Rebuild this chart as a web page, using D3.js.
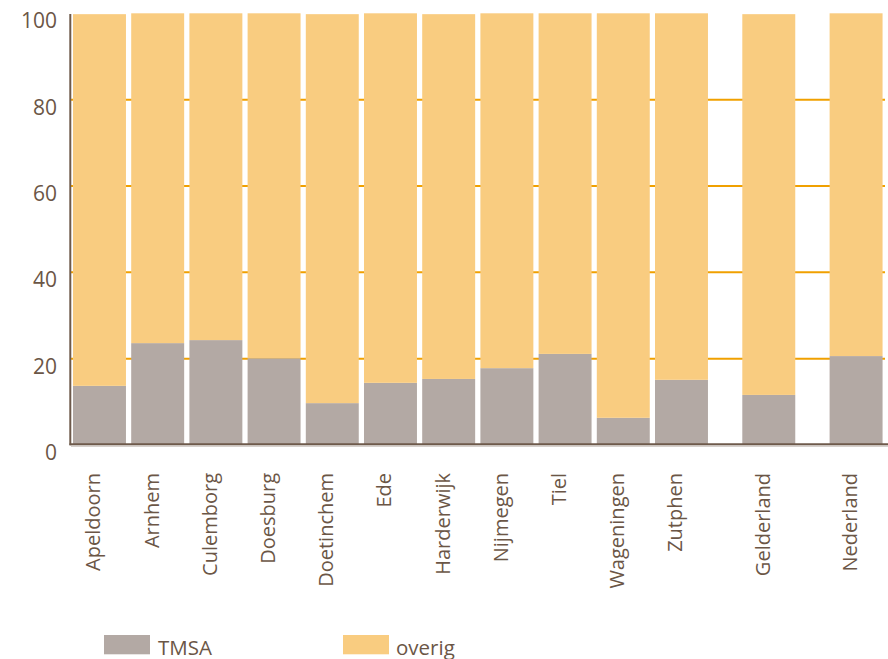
<!DOCTYPE html>
<html>
<head>
<meta charset="utf-8">
<script src="https://cdn.jsdelivr.net/npm/d3@7"></script>
<style>
  html, body { margin: 0; padding: 0; background: #fff; }
  svg { display: block; }
  text { font-family: "Open Sans", sans-serif; fill: #6b5646; }
</style>
</head>
<body>
<svg id="chart" width="888" height="659"></svg>
<script>
// ---- data ----
const categories = ["Apeldoorn", "Arnhem", "Culemborg", "Doesburg", "Doetinchem", "Ede",
  "Harderwijk", "Nijmegen", "Tiel", "Wageningen", "Zutphen", "Gelderland", "Nederland"];
const groups = [0, 0, 0, 0, 0, 0, 0, 0, 0, 0, 0, 1, 2];
const tmsa = [13.7, 23.6, 24.3, 20.1, 9.7, 14.4, 15.3, 17.8, 21.1, 6.3, 15.1, 11.6, 20.6];
const overig = [86.1, 76.4, 75.7, 79.9, 90.1, 85.6, 84.5, 82.2, 78.9, 93.7, 84.9, 88.2, 79.4];
const seriesNames = ["TMSA", "overig"];
const yTicks = [0, 20, 40, 60, 80, 100];
const gridTicks = [20, 40, 60, 80];

// ---- styles ----
const colors = { TMSA: "#b3a9a4", overig: "#f9cc80" };
const gridColor = "#f0a000";
const axisColor = "#6e5a4b";

const svg = d3.select("#chart");

const y = d3.scaleLinear().domain([0, 100]).range([445, 13.3]);
const slot = categories.map((c, i) => i + 0.5 * groups[i]);
const x = d3.scaleLinear().domain([0, 13]).range([73, 829.6]);
const barW = x(0.91) - x(0);

// gridlines
svg.append("g").selectAll("line").data(gridTicks).join("line")
  .attr("x1", 71).attr("x2", 885)
  .attr("y1", d => y(d)).attr("y2", d => y(d))
  .attr("stroke", gridColor).attr("stroke-width", 2);

// stacked bars
const rows = categories.map((c, i) => ({ cat: c, slot: slot[i], TMSA: tmsa[i], overig: overig[i] }));
const stack = d3.stack().keys(seriesNames)(rows);
svg.append("g").selectAll("g").data(stack).join("g")
  .attr("fill", s => colors[s.key])
  .selectAll("rect").data(s => s).join("rect")
  .attr("x", d => x(d.data.slot))
  .attr("width", barW)
  .attr("y", d => y(d[1]))
  .attr("height", d => y(d[0]) - y(d[1]));

// axes lines
svg.append("line").attr("x1", 71).attr("x2", 888).attr("y1", 446.2).attr("y2", 446.2)
  .attr("stroke", "#d6d0cc").attr("stroke-width", 1.5);
svg.append("line").attr("x1", 69.5).attr("x2", 888).attr("y1", 444.3).attr("y2", 444.3)
  .attr("stroke", axisColor).attr("stroke-width", 2);
svg.append("line").attr("x1", 70.3).attr("x2", 70.3).attr("y1", 14).attr("y2", 445.3)
  .attr("stroke", axisColor).attr("stroke-width", 2);

// y tick labels
svg.append("g").selectAll("text").data(yTicks).join("text")
  .attr("x", 57).attr("y", d => y(d) + 15)
  .attr("text-anchor", "end")
  .style("font-size", "21px")
  .text(d => d);

// x labels
svg.append("g").selectAll("text").data(rows).join("text")
  .attr("transform", d => `translate(${x(d.slot) + barW / 2 + 1},473) rotate(-90)`)
  .attr("text-anchor", "end")
  .style("font-size", "20px")
  .text(d => d.cat);

// legend
const legendX = [104, 343];
const lg = svg.append("g").selectAll("g").data(seriesNames).join("g")
  .attr("transform", (d, i) => `translate(${legendX[i]},635)`);
lg.append("rect").attr("width", 46).attr("height", 19.3).attr("fill", d => colors[d]);
lg.append("text").attr("x", d => d === "TMSA" ? 54 : 53).attr("y", 19.5)
  .style("font-size", "20.5px").text(d => d);
</script>
</body>
</html>
